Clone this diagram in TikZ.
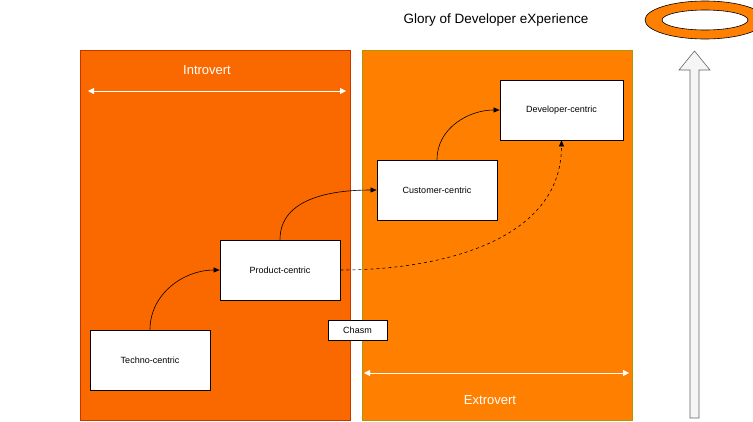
\documentclass[tikz,border=0pt]{standalone}
\usepackage{fontspec}
\setmainfont{Liberation Sans}
\usetikzlibrary{arrows.meta}
\definecolor{lefto}{HTML}{FA6800}
\definecolor{lefts}{HTML}{C73500}
\definecolor{righto}{HTML}{FF8000}
\definecolor{rights}{HTML}{B09500}
\begin{document}
\begin{tikzpicture}[x=1pt,y=-1pt,
  box/.style={draw=black,fill=white,line width=0.8pt,minimum width=120pt,minimum height=60pt,inner sep=0pt,font=\fontsize{9}{11}\selectfont},
  conn/.style={-{Triangle[length=6pt,width=5pt]},line width=0.6pt},
  span/.style={{Triangle[length=6pt,width=6pt]}-{Triangle[length=6pt,width=6pt]},white,line width=0.8pt},
  lbl/.style={text=white,font=\fontsize{13}{15}\selectfont}]
\useasboundingbox (0,0) rectangle (753,421);
\fill[lefto,draw=lefts] (80,50) rectangle (350,420);
\fill[righto,draw=rights] (362,50) rectangle (632,420);
\node[lbl] (intro) at (207,70) {Introvert};
\node[lbl] (extro) at (490,400) {Extrovert};
\coordinate (ia) at (88,91); \coordinate (ib) at (346,91);
\draw[span] (ia) -- (ib);
\coordinate (ea) at (364,373); \coordinate (eb) at (629,373);
\draw[span] (ea) -- (eb);
\node[box] (techno) at (150,360) {Techno-centric};
\node[box] (product) at (280,270) {Product-centric};
\node[box] (customer) at (437,190) {Customer-centric};
\node[box,minimum width=123pt] (dev) at (561.5,110) {Developer-centric};
\node[draw=black,fill=white,line width=0.8pt,minimum width=59pt,minimum height=20pt,inner sep=0pt,font=\fontsize{9}{11}\selectfont] (chasm) at (357.5,330) {Chasm};
\draw[conn] (techno.north) to[out=90,in=180] (product.west);
\draw[conn] (product.north) to[out=90,in=180] (customer.west);
\draw[conn] (customer.north) to[out=90,in=180] (dev.west);
\draw[conn,dashed] (product.east) to[out=0,in=-90] (dev.south);
\node[font=\fontsize{13.5}{16}\selectfont] (title) at (496,20) {Glory of Developer eXperience};
\fill[righto,draw=black,even odd rule,line width=0.6pt] (705,20) ellipse [x radius=60,y radius=19] (705,20) ellipse [x radius=43,y radius=10];
\draw[fill=white!96!black,draw=black!60,line width=0.6pt] (690,418) -- (690,70) -- (679,70) -- (694.5,51) -- (710,70) -- (699,70) -- (699,418) -- cycle;
\end{tikzpicture}
\end{document}
